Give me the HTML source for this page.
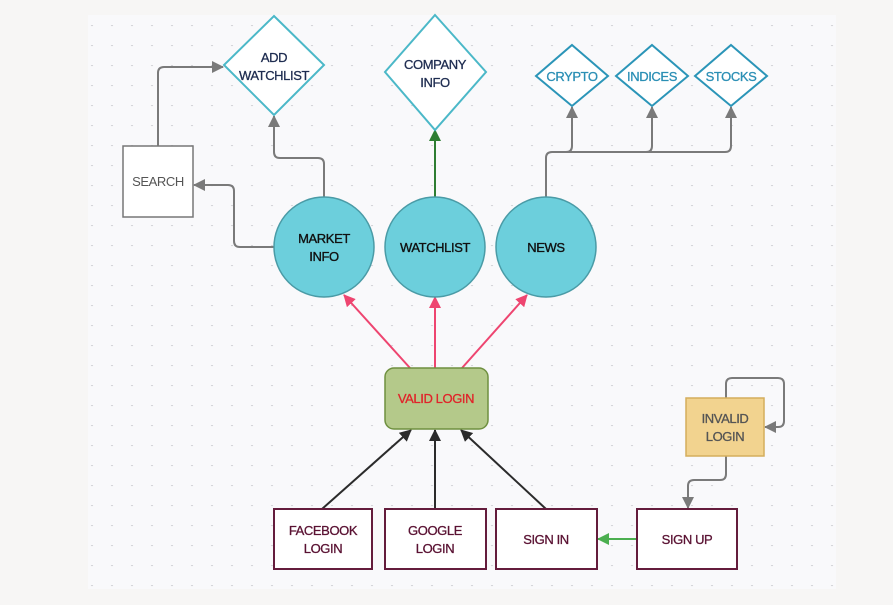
<!DOCTYPE html>
<html><head><meta charset="utf-8"><style>
html,body{margin:0;padding:0;background:#f7f6f5;}
svg{display:block}
text{font-family:"Liberation Sans",sans-serif;font-size:13px;text-anchor:middle;letter-spacing:-0.4px}
</style></head><body>
<svg width="893" height="605" viewBox="0 0 893 605" xmlns="http://www.w3.org/2000/svg">
<defs>
<pattern id="dots" x="2" y="5" width="20" height="20" patternUnits="userSpaceOnUse"><circle cx="10" cy="0" r="1.2" fill="#d4d4d9"/></pattern>
<marker id="agr" markerWidth="12" markerHeight="12" refX="11" refY="6" orient="auto" markerUnits="userSpaceOnUse"><path d="M0,0 L12,6 L0,12z" fill="#7a7a7a"/></marker>
<marker id="ap" markerWidth="12" markerHeight="12" refX="11" refY="6" orient="auto" markerUnits="userSpaceOnUse"><path d="M0,0 L12,6 L0,12z" fill="#ee4570"/></marker>
<marker id="ab" markerWidth="12" markerHeight="12" refX="11" refY="6" orient="auto" markerUnits="userSpaceOnUse"><path d="M0,0 L12,6 L0,12z" fill="#2b2b2b"/></marker>
<marker id="agn" markerWidth="12" markerHeight="12" refX="11" refY="6" orient="auto" markerUnits="userSpaceOnUse"><path d="M0,0 L12,6 L0,12z" fill="#2e7d32"/></marker>
<marker id="agl" markerWidth="12" markerHeight="12" refX="11" refY="6" orient="auto" markerUnits="userSpaceOnUse"><path d="M0,0 L12,6 L0,12z" fill="#4caf50"/></marker>
</defs>
<rect x="88" y="15" width="748" height="574" fill="#f9f9fb"/>
<rect x="88" y="15" width="748" height="574" fill="url(#dots)"/>

<g fill="none" stroke="#7a7a7a" stroke-width="2">
<path d="M158,146 V73 Q158,67 164,67 H223" marker-end="url(#agr)"/>
<path d="M274,247 H240 Q234,247 234,241 V191 Q234,185 228,185 H194" marker-end="url(#agr)"/>
<path d="M324,197 V164 Q324,158 318,158 H280 Q274,158 274,152 V116" marker-end="url(#agr)"/>
<path d="M546,197 V158 Q546,152 552,152 H725 Q731,152 731,146 V107" marker-end="url(#agr)"/>
<path d="M566,152 Q572,152 572,146 V107" marker-end="url(#agr)"/>
<path d="M646,152 Q652,152 652,146 V107" marker-end="url(#agr)"/>
<path d="M726,398 V384 Q726,378 732,378 H778 Q784,378 784,384 V421 Q784,427 778,427 H765" marker-end="url(#agr)"/>
<path d="M726,456 V474 Q726,480 720,480 H694 Q688,480 688,486 V508" marker-end="url(#agr)"/>
</g>
<path d="M435,197 V130" stroke="#2e7d32" stroke-width="2" fill="none" marker-end="url(#agn)"/>
<g stroke="#ee4570" stroke-width="2" fill="none">
<path d="M410,368 L344,295" marker-end="url(#ap)"/>
<path d="M435,368 V297" marker-end="url(#ap)"/>
<path d="M462,368 L527,295" marker-end="url(#ap)"/>
</g>
<g stroke="#2b2b2b" stroke-width="2" fill="none">
<path d="M322,509 L411,430" marker-end="url(#ab)"/>
<path d="M435,509 V430" marker-end="url(#ab)"/>
<path d="M546,509 L461,430" marker-end="url(#ab)"/>
</g>
<path d="M637,539 H598" stroke="#4caf50" stroke-width="2" fill="none" marker-end="url(#agl)"/>

<g fill="#fff" stroke="#4bb8c8" stroke-width="2">
<polygon points="274,16 324,65 274,115 224,65"/>
<polygon points="435,15 486,72 435,130 385,72"/>
</g>
<g fill="#fff" stroke="#2b95b8" stroke-width="2">
<polygon points="572,45 608,76 572,106 536,76"/>
<polygon points="652,45 688,76 652,106 616,76"/>
<polygon points="731,45 767,76 731,106 695,76"/>
</g>
<g fill="#1e2c50" stroke="#1e2c50" stroke-width="0.3"><text x="274" y="62">ADD</text><text x="274" y="80">WATCHLIST</text>
<text x="435" y="69">COMPANY</text><text x="435" y="87">INFO</text></g>
<g fill="#2b8fb5" stroke="#2b8fb5" stroke-width="0.3"><text x="572" y="81">CRYPTO</text><text x="652" y="81">INDICES</text><text x="731" y="81">STOCKS</text></g>

<rect x="123" y="146" width="70" height="71" fill="#fff" stroke="#777" stroke-width="1.5"/>
<text x="158" y="186" fill="#555">SEARCH</text>

<g fill="#6ccfdc" stroke="#4a9ba6" stroke-width="1.5">
<circle cx="324" cy="247" r="50"/><circle cx="435" cy="247" r="50"/><circle cx="546" cy="247" r="50"/>
</g>
<g fill="#111" stroke="#111" stroke-width="0.35"><text x="324" y="243">MARKET</text><text x="324" y="261">INFO</text>
<text x="435" y="252">WATCHLIST</text><text x="546" y="252">NEWS</text></g>

<rect x="385" y="368" width="103" height="61" rx="9" fill="#b4c98a" stroke="#6f9040" stroke-width="1.5"/>
<text x="436" y="403" fill="#e0242a" stroke="#e0242a" stroke-width="0.3">VALID LOGIN</text>
<rect x="686" y="398" width="78" height="58" fill="#f2d38f" stroke="#d4ae5c" stroke-width="1.5"/>
<g fill="#555" stroke="#555" stroke-width="0.3"><text x="725" y="423">INVALID</text><text x="725" y="441">LOGIN</text></g>

<g fill="#fff" stroke="#641c3c" stroke-width="2">
<rect x="274" y="509" width="98" height="60"/>
<rect x="385" y="509" width="101" height="60"/>
<rect x="496" y="509" width="101" height="60"/>
<rect x="637" y="509" width="100" height="60"/>
</g>
<g fill="#5a1233" stroke="#5a1233" stroke-width="0.3"><text x="323" y="535">FACEBOOK</text><text x="323" y="553">LOGIN</text>
<text x="435" y="535">GOOGLE</text><text x="435" y="553">LOGIN</text>
<text x="546" y="544">SIGN IN</text><text x="687" y="544">SIGN UP</text></g>
</svg>
</body></html>
